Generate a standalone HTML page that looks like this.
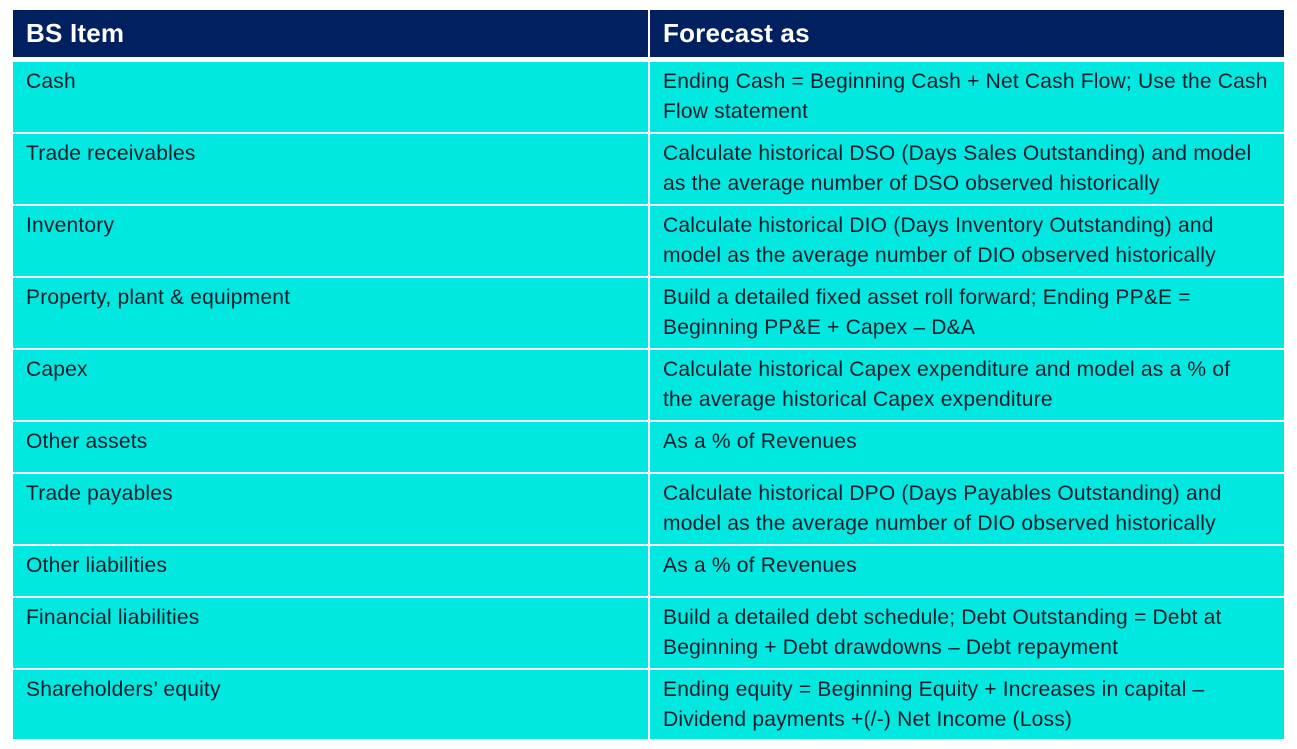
<!DOCTYPE html>
<html><head><meta charset="utf-8"><style>
body{margin:0;width:1297px;height:749px;background:#fff;position:relative;overflow:hidden;font-family:"Liberation Sans",sans-serif}
.c{position:absolute;box-sizing:border-box;color:#0b1d2b;font-size:21px;line-height:30px;padding:5px 0 0 13px;white-space:nowrap;letter-spacing:0.2px}
.h{background:#002060;color:#fff;font-weight:bold;font-size:26px;line-height:47px;padding:0 0 0 13px;letter-spacing:0.2px}
.b{background:#00e8e0}
</style></head><body>
<div class="c h" style="left:13px;top:10px;width:635px;height:47px">BS Item</div>
<div class="c h" style="left:650px;top:10px;width:634px;height:47px">Forecast as</div>
<script>
const items=["Cash","Trade receivables","Inventory","Property, plant & equipment","Capex","Other assets","Trade payables","Other liabilities","Financial liabilities","Shareholders’ equity"];
const desc=[["Ending Cash = Beginning Cash + Net Cash Flow; Use the Cash","Flow statement"],["Calculate historical DSO (Days Sales Outstanding) and model","as the average number of DSO observed historically"],["Calculate historical DIO (Days Inventory Outstanding) and","model as the average number of DIO observed historically"],["Build a detailed fixed asset roll forward; Ending PP&E =","Beginning PP&E + Capex – D&A"],["Calculate historical Capex expenditure and model as a % of","the average historical Capex expenditure"],["As a % of Revenues"],["Calculate historical DPO (Days Payables Outstanding) and","model as the average number of DIO observed historically"],["As a % of Revenues"],["Build a detailed debt schedule; Debt Outstanding = Debt at","Beginning + Debt drawdowns – Debt repayment"],["Ending equity = Beginning Equity + Increases in capital –","Dividend payments +(/-) Net Income (Loss)"]];
let y=62;
items.forEach((it,i)=>{
  let h=desc[i].length>1?70:50;
  if(i===items.length-1) h=69;
  const a=document.createElement('div');a.className='c b';
  
  
  a.style.cssText=`left:13px;top:${y}px;width:635px;height:${h}px`;a.textContent=it;
  const b=document.createElement('div');b.className='c b';
  
  
  b.style.cssText=`left:650px;top:${y}px;width:634px;height:${h}px`;b.innerHTML=desc[i].map(s=>s.replace(/&/g,'&amp;')).join('<br>');
  document.body.appendChild(a);document.body.appendChild(b);
  y+=h+2;
});
</script>
</body></html>
